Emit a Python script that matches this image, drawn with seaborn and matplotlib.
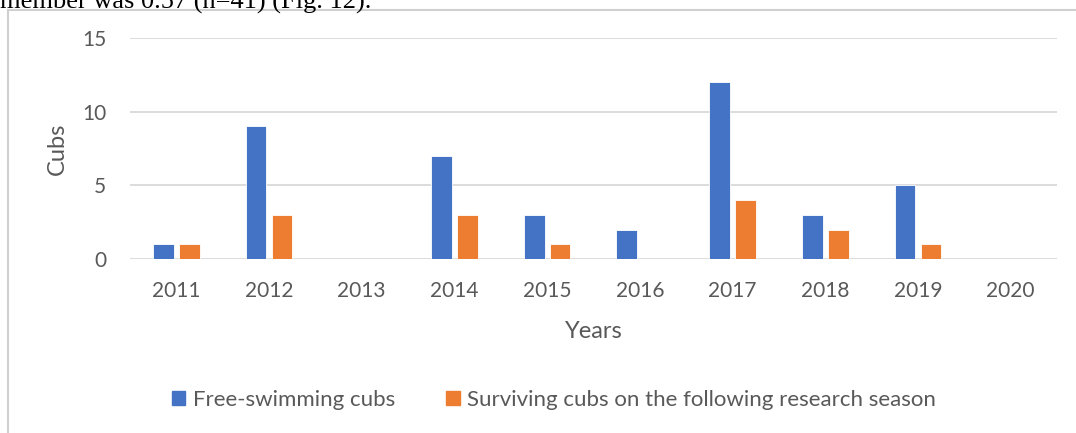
"""
Cubs per year: free-swimming vs surviving to next season.
"""

import pandas as pd
import matplotlib.pyplot as plt
import matplotlib.patches as mpatches
import seaborn as sns

# ── Data ─────────────────────────────────────────────────────────────────────
years = ["2011", "2012", "2013", "2014", "2015", "2016", "2017", "2018", "2019", "2020"]
free_swimming = [1, 9, 0, 7, 3, 2, 12, 3, 5, 0]
surviving = [1, 3, 0, 3, 1, 0, 4, 2, 1, 0]

series_names = ["Free-swimming cubs", "Surviving cubs on the following research season"]

# fmt: off
BLUE   = "#4472C4"
ORANGE = "#ED7D31"
GRID   = "#D9D9D9"
TEXT   = "#595959"
# fmt: on

df = pd.DataFrame({
    "Years": years * 2,
    "Cubs": free_swimming + surviving,
    "Series": [series_names[0]] * len(years) + [series_names[1]] * len(years),
})

sns.set_theme(style="white")
plt.rcParams["font.family"] = ["Lato", "DejaVu Sans"]

fig = plt.figure(figsize=(10.76, 4.33), dpi=100)
fig.patch.set_facecolor("white")
ax = fig.add_axes([0.1208, 0.4018, 0.8615, 0.5104])

sns.barplot(
    data=df, x="Years", y="Cubs", hue="Series",
    palette=[BLUE, ORANGE], saturation=1, width=0.56, gap=0.2,
    edgecolor="white", linewidth=0.6, ax=ax, legend=False,
)

ax.set_xlim(-0.5, len(years) - 0.5)
ax.set_ylim(0, 15)
ax.set_yticks([0, 5, 10, 15])
ax.yaxis.grid(True, color=GRID, linewidth=1.3)
ax.set_axisbelow(True)
for side in ["top", "right", "left", "bottom"]:
    ax.spines[side].set_visible(False)
ax.tick_params(axis="both", length=0, labelsize=15, labelcolor=TEXT)
ax.tick_params(axis="x", pad=16)
ax.tick_params(axis="y", pad=17)
ax.set_xlabel("Years", fontsize=17, color=TEXT, labelpad=14)
ax.set_ylabel("Cubs", fontsize=17, color=TEXT, labelpad=10)

# Legend below the plot
handles = [mpatches.Patch(color=BLUE, label=series_names[0]),
           mpatches.Patch(color=ORANGE, label=series_names[1])]
fig.legend(handles=handles, loc="center", bbox_to_anchor=(0.515, 1 - 400 / 433),
           ncol=2, frameon=False, fontsize=16, labelcolor=TEXT,
           handlelength=0.6, handleheight=0.6, handletextpad=0.35,
           columnspacing=2.3)

# Chart frame and clipped page text above it
fig.add_artist(mpatches.Rectangle((8 / 1076, -0.1), 1.2, 1 - 10 / 433 + 0.1,
                                  transform=fig.transFigure, fill=False,
                                  edgecolor="#D0D0D0", linewidth=1.5))
fig.text(0.0, 1 - 9 / 433, "member was 0.57 (n=41) (Fig. 12).",
         ha="left", va="baseline", fontsize=19, color="black",
         family=["Liberation Serif", "DejaVu Serif"])

plt.savefig("out.png", dpi=100, facecolor="white")
plt.close()
